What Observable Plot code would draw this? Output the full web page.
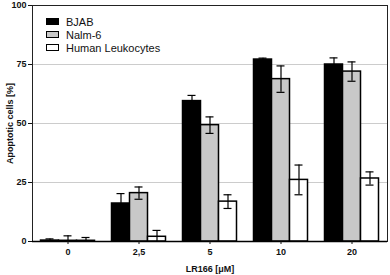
<!DOCTYPE html>
<html>
<head>
<meta charset="utf-8">
<script src="https://cdn.jsdelivr.net/npm/d3@7"></script>
<script src="https://cdn.jsdelivr.net/npm/@observablehq/plot@0.6"></script>
<style>
  body { margin: 0; background: #fff; }
  #wrap { position: relative; width: 390px; height: 275px; font-family: "Liberation Sans", Arial, sans-serif; }
  #legend { position: absolute; left: 46px; top: 15px; font-size: 11px; color: #111; }
  #legend .row { display: flex; align-items: center; height: 13px; }
  #legend .sw { width: 11px; height: 5px; border: 1.5px solid #000; margin-right: 7px; }
</style>
</head>
<body>
<div id="wrap"><div id="legend"></div></div>
<script>
const groups = ["0", "2,5", "5", "10", "20"];
const series = ["BJAB", "Nalm-6", "Human Leukocytes"];
const bjab = [0.4, 16.1, 59.5, 77.1, 75.0];
const bjabErr = [0.7, 4.2, 2.4, 0.6, 2.8];
const nalm = [0.3, 20.5, 49.3, 68.8, 72.0];
const nalmErr = [2.1, 2.6, 3.5, 5.6, 4.1];
const leuk = [0.3, 2.0, 16.9, 26.1, 26.7];
const leukErr = [1.4, 2.7, 2.9, 6.3, 2.8];
const yTicks = [0, 25, 50, 75, 100];

const fills = ["#000000", "#c8c8c8", "#ffffff"];
const means = [bjab, nalm, leuk];
const errs = [bjabErr, nalmErr, leukErr];

const W = 390, H = 275, ml = 32, mr = 3, mt = 5, mb = 34;
const bw = (W - ml - mr) / groups.length;
const barW = 18, capW = 8;

const marks = [
  Plot.gridY([25, 50, 75], {stroke: "#cccccc", strokeOpacity: 1, strokeWidth: 1}),
];
series.forEach((s, i) => {
  const data = groups.map((g, j) => ({g, v: means[i][j], e: errs[i][j]}));
  const left = bw / 2 - 1.5 * barW + barW * i;
  const center = left + barW / 2;
  marks.push(Plot.barY(data, {
    x: "g", y: "v", fill: fills[i], stroke: "#000", strokeWidth: 1.5,
    insetLeft: left, insetRight: bw - left - barW
  }));
  marks.push(Plot.ruleX(data, {
    x: "g", y1: d => d.v - d.e, y2: d => d.v + d.e,
    dx: center - bw / 2, stroke: "#000", strokeWidth: 1.2, clip: true
  }));
  marks.push(Plot.tickY(data, {
    x: "g", y: d => d.v + d.e,
    insetLeft: center - capW / 2, insetRight: bw - center - capW / 2,
    stroke: "#000", strokeWidth: 1.2, clip: true
  }));
  marks.push(Plot.tickY(data.filter(d => d.v - d.e > 0), {
    x: "g", y: d => d.v - d.e,
    insetLeft: center - capW / 2, insetRight: bw - center - capW / 2,
    stroke: "#000", strokeWidth: 1.2, clip: true
  }));
});
marks.push(Plot.frame({stroke: "#222", strokeWidth: 1}));
marks.push(Plot.ruleY([0], {stroke: "#000", strokeWidth: 1.5}));
marks.push(Plot.axisY({
  ticks: yTicks, tickSize: 4, tickPadding: 2, fontWeight: "bold", fontSize: 9,
  label: "Apoptotic cells [%]", labelAnchor: "center", labelOffset: 26, labelArrow: false
}));
marks.push(Plot.axisX({
  tickSize: 3, tickPadding: 4, fontWeight: "bold", fontSize: 9,
  label: "LR166 [μM]", labelAnchor: "center", labelOffset: 30, labelArrow: false
}));

const chart = Plot.plot({
  width: W, height: H,
  marginLeft: ml, marginRight: mr, marginTop: mt, marginBottom: mb,
  style: {fontFamily: "'Liberation Sans', Arial, sans-serif", fontSize: "9px", color: "#111", background: "#fff", fontWeight: "bold"},
  x: {type: "band", domain: groups, padding: 0},
  y: {domain: [0, 100]},
  marks
});
document.getElementById("wrap").prepend(chart);

const legend = document.getElementById("legend");
series.forEach((s, i) => {
  const row = document.createElement("div");
  row.className = "row";
  const sw = document.createElement("div");
  sw.className = "sw";
  sw.style.background = i === 2 ? "#fff" : fills[i];
  const t = document.createElement("span");
  t.textContent = s;
  row.appendChild(sw); row.appendChild(t);
  legend.appendChild(row);
});
</script>
</body>
</html>
